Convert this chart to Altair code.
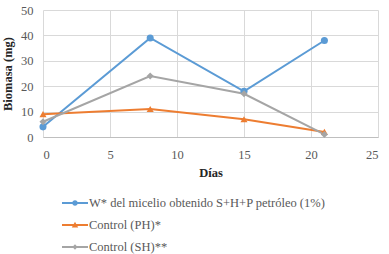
import altair as alt
import pandas as pd

dias = [0, 8, 15, 21]
serie_w = [4, 39, 18, 38]
serie_ph = [9, 11, 7, 2]
serie_sh = [6, 24, 17, 1]
nombres = ["W* del micelio obtenido S+H+P petróleo (1%)", "Control (PH)*", "Control (SH)**"]
colores = ["#5B9BD5", "#ED7D31", "#A5A5A5"]
marcadores = ["circle", "triangle-up", "diamond"]

rows = []
for nombre, marca, vals in zip(nombres, marcadores, [serie_w, serie_ph, serie_sh]):
    for d, v in zip(dias, vals):
        rows.append({"dia": d, "valor": v, "serie": nombre, "marca": marca})
df = pd.DataFrame(rows)

# legend symbols: horizontal bar + marker (filled, same winding direction)
bar = "M-1.3,-0.1H1.3V0.1H-1.3Z"
leg_paths = [
    bar + "M-0.28,0A0.28,0.28,0,1,1,0.28,0A0.28,0.28,0,1,1,-0.28,0Z",
    bar + "M0,-0.32L0.32,0.24L-0.32,0.24Z",
    bar + "M0,-0.28L0.26,0L0,0.28L-0.26,0Z",
]

FONT = "Liberation Serif, Times New Roman, serif"
GRAY = "#595959"

x = alt.X("dia:Q", title="Días", scale=alt.Scale(domain=[0, 25], nice=False),
          axis=alt.Axis(values=[0, 5, 10, 15, 20, 25], grid=True, gridColor="#D9D9D9",
                        domainColor="#BFBFBF", ticks=False, labelPadding=11,
                        titleFontWeight="bold", titlePadding=6))
y = alt.Y("valor:Q", title="Biomasa (mg)", scale=alt.Scale(domain=[0, 50], nice=False),
          axis=alt.Axis(values=[0, 10, 20, 30, 40, 50], grid=True, gridColor="#D9D9D9",
                        domain=False, ticks=False, labelPadding=10,
                        titleFontWeight="bold", titlePadding=6))
color_scale = alt.Scale(domain=nombres, range=colores)
legend = alt.Legend(title=None, orient="none", legendX=22, legendY=183, direction="vertical",
                    symbolSize=400, labelFont=FONT, labelFontSize=12.5, labelColor=GRAY,
                    rowPadding=5, labelOffset=4, labelLimit=400, padding=0,
                    symbolStrokeWidth=0)

base = alt.Chart(df)
lines = base.mark_line(strokeWidth=2).encode(
    x=x, y=y, color=alt.Color("serie:N", scale=color_scale, legend=None))
points = base.mark_point(filled=True, size=50, opacity=1).encode(
    x=x, y=y, color=alt.Color("serie:N", scale=color_scale, legend=None),
    shape=alt.Shape("marca:N", scale=None, legend=None))
legend_layer = base.transform_filter("false").mark_point(filled=True, size=400, opacity=1).encode(
    x=x, y=y,
    color=alt.Color("serie:N", scale=color_scale, legend=legend),
    shape=alt.Shape("serie:N", scale=alt.Scale(domain=nombres, range=leg_paths), legend=legend))

chart = alt.layer(legend_layer, lines, points).properties(
    width=335, height=127,
    autosize=alt.AutoSizeParams(type="none"),
    padding={"left": 43, "top": 10, "right": 11, "bottom": 117},
).configure(font=FONT).configure_view(stroke=None).configure_axis(
    labelFont=FONT, titleFont=FONT, labelFontSize=12.5, titleFontSize=12.5,
    labelColor=GRAY, titleColor="#262626"
)

chart.save("out.html", embed_options={"renderer": "svg", "actions": False})
